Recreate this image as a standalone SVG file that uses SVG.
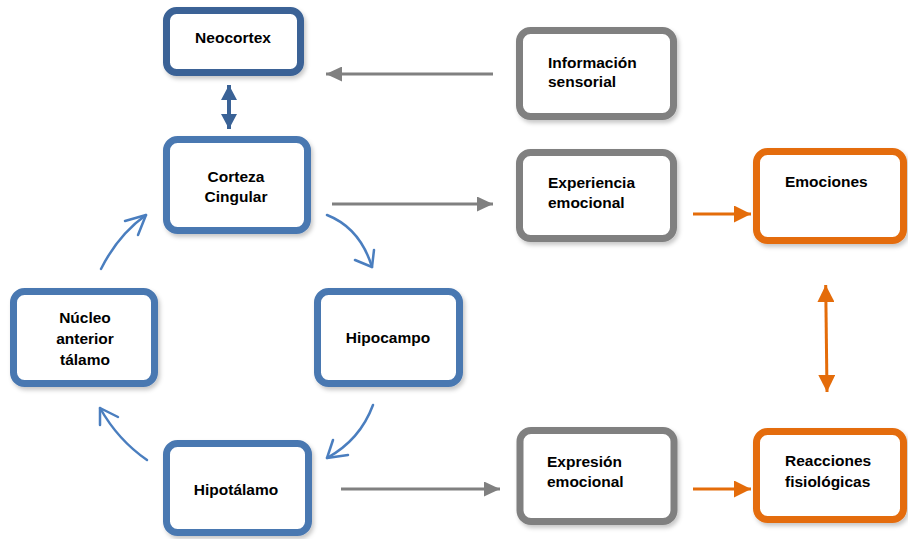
<svg xmlns="http://www.w3.org/2000/svg" width="908" height="539" viewBox="0 0 908 539">
<style>
.box{fill:#fff;stroke-width:7;filter:url(#sh)}
.blue{stroke:#4a78b1}
.dblue{stroke:#3a6296}
.gray{stroke:#808080}
.orange{stroke:#e46c0a}
text{font-family:"Liberation Sans",Arial,sans-serif;font-weight:bold;font-size:15.5px;fill:#000}
.c{text-anchor:middle}
.cv{fill:none;stroke:#4a7ebf;stroke-width:2.5;stroke-linecap:round;stroke-linejoin:round}
.g{stroke:#808080;stroke-width:3;fill:none}
.o{stroke:#e46c0a;stroke-width:3;fill:none}
.db{stroke:#3a6296;stroke-width:4;fill:none}
</style>
<defs>
<filter id="sh" x="-10%" y="-10%" width="125%" height="130%">
<feDropShadow dx="2" dy="3" stdDeviation="2" flood-color="#000" flood-opacity="0.22"/>
</filter>
<marker id="ag" markerUnits="userSpaceOnUse" markerWidth="16" markerHeight="15" refX="16" refY="7.5" orient="auto"><path d="M0,0 L16,7.5 L0,15 z" fill="#808080"/></marker>
<marker id="ao" markerUnits="userSpaceOnUse" markerWidth="17" markerHeight="17" refX="17" refY="8.5" orient="auto-start-reverse"><path d="M0,0 L17,8.5 L0,17 z" fill="#e46c0a"/></marker>
<marker id="ab" markerUnits="userSpaceOnUse" markerWidth="15" markerHeight="16" refX="15" refY="8" orient="auto-start-reverse"><path d="M0,0 L15,8 L0,16 z" fill="#3a6296"/></marker>
</defs>

<g id="connectors">
<line class="db" x1="229" y1="85" x2="229" y2="129" marker-start="url(#ab)" marker-end="url(#ab)"/>
<line class="g" x1="493" y1="74" x2="326" y2="74" marker-end="url(#ag)"/>
<line class="g" x1="332" y1="204" x2="493" y2="204" marker-end="url(#ag)"/>
<line class="g" x1="341" y1="489" x2="500" y2="489" marker-end="url(#ag)"/>
<line class="o" x1="693" y1="214" x2="751" y2="214" marker-end="url(#ao)"/>
<line class="o" x1="693" y1="489" x2="751" y2="489" marker-end="url(#ao)"/>
<line class="o" x1="825.7" y1="285" x2="827" y2="392" marker-start="url(#ao)" marker-end="url(#ao)"/>
<path class="cv" d="M327,215 Q360,228 372,267"/>
<polyline class="cv" points="355,260 372,267 374,250"/>
<path class="cv" d="M373,405 Q360,440 327,458"/>
<polyline class="cv" points="348,455 327,458 333,440"/>
<path class="cv" d="M147,460 Q118,440 100,408"/>
<polyline class="cv" points="100,425 100,408 118,417"/>
<path class="cv" d="M101,269 Q118,235 146,215"/>
<polyline class="cv" points="125,221 146,215 138,235"/>
</g>

<g id="neocortex"><rect class="box dblue" x="166.5" y="10.5" width="134" height="62" rx="10"/><text class="c" x="233" y="43">Neocortex</text></g>
<g id="corteza"><rect class="box blue" x="166.5" y="139.5" width="141" height="91" rx="11"/><text class="c" x="236" y="182">Corteza</text><text class="c" x="236" y="202">Cingular</text></g>
<g id="nucleo"><rect class="box blue" x="13.5" y="291.5" width="141" height="92" rx="11"/><text class="c" x="85" y="323">Núcleo</text><text class="c" x="85" y="344">anterior</text><text class="c" x="85" y="365">tálamo</text></g>
<g id="hipocampo"><rect class="box blue" x="317.5" y="291.5" width="142" height="92" rx="11"/><text class="c" x="388" y="343">Hipocampo</text></g>
<g id="hipotalamo"><rect class="box blue" x="166.5" y="443.5" width="142" height="89" rx="11"/><text class="c" x="236" y="495">Hipotálamo</text></g>
<g id="informacion"><rect class="box gray" x="519.5" y="30.5" width="154" height="86" rx="11"/><text x="548" y="68">Información</text><text x="548" y="87">sensorial</text></g>
<g id="experiencia"><rect class="box gray" x="519.5" y="152.5" width="154" height="86" rx="11"/><text x="548" y="188">Experiencia</text><text x="548" y="208">emocional</text></g>
<g id="expresion"><rect class="box gray" x="520" y="430.5" width="154" height="91" rx="11"/><text x="547" y="467">Expresión</text><text x="547" y="487">emocional</text></g>
<g id="emociones"><rect class="box orange" x="756.5" y="151.5" width="147" height="89" rx="11"/><text x="785" y="187">Emociones</text></g>
<g id="reacciones"><rect class="box orange" x="756.5" y="431.5" width="147" height="88" rx="11"/><text x="785" y="466">Reacciones</text><text x="785" y="487">fisiológicas</text></g>
</svg>
